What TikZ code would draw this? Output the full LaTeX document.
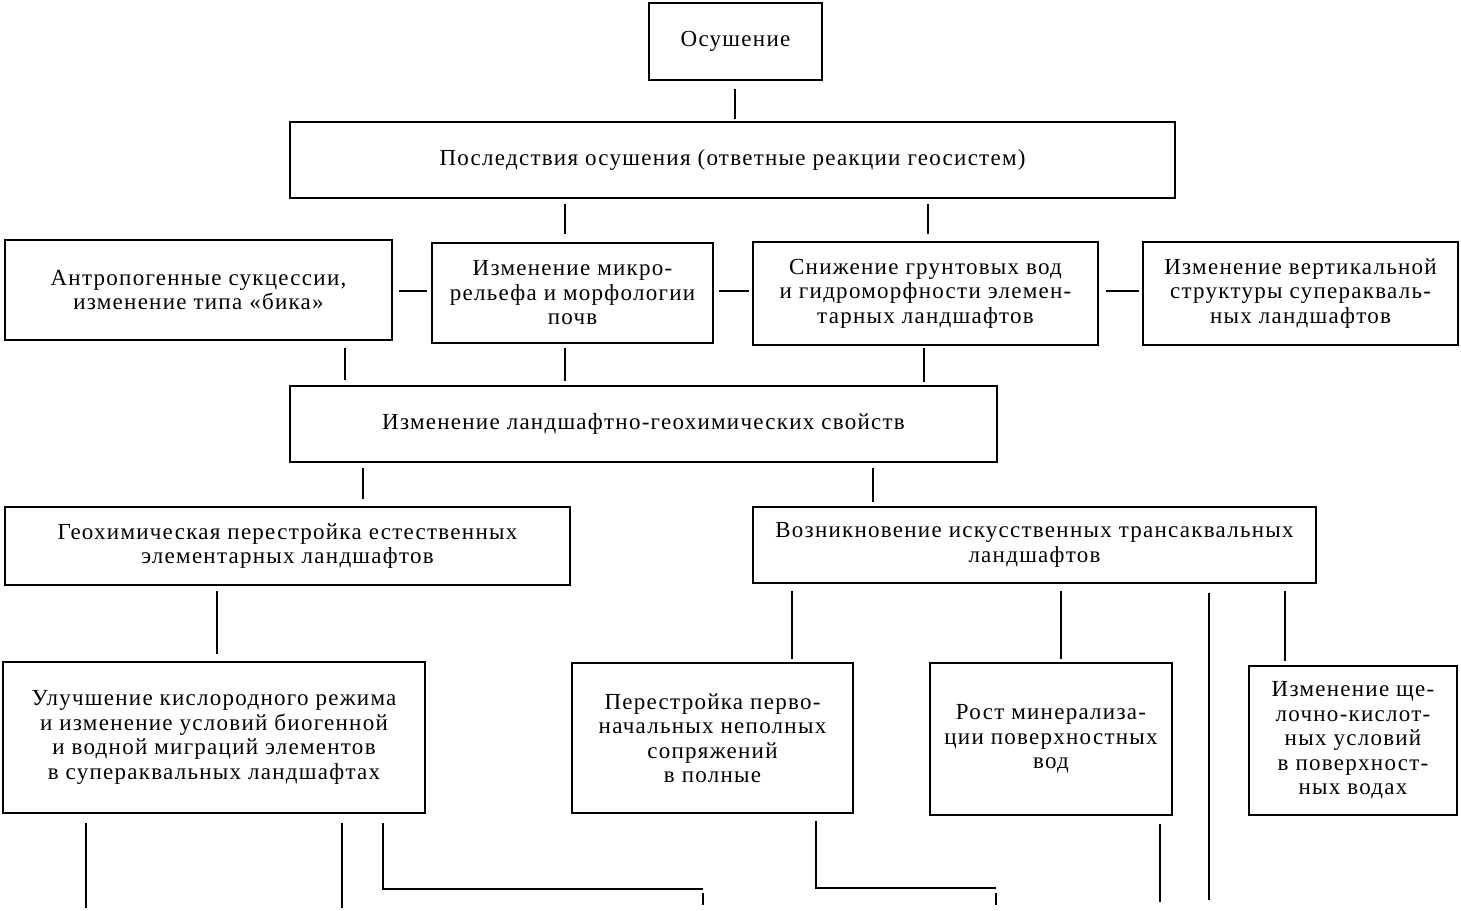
\documentclass[tikz,border=0pt]{standalone}
\usepackage{fontspec}
\setmainfont{Liberation Serif}[LetterSpace=5.5]
\usetikzlibrary{calc}
\begin{document}
\begin{tikzpicture}[x=1pt,y=-1pt,
  box/.style={draw,line width=1.8pt,inner sep=0pt,align=center,
    font=\fontsize{23}{24.5}\selectfont},
  conn/.style={line width=1.5pt}]
\useasboundingbox (0,0) rectangle (1461,910);
% boxes
\node[box,minimum width=173,minimum height=77] (O) at (735.5,41.5) {Осушение};
\node[box,minimum width=885,minimum height=76] (P) at (732.5,160) {Последствия осушения (ответные реакции геосистем)};
\node[box,minimum width=387,minimum height=100] (A) at (198.5,290) {Антропогенные сукцессии,\\изменение типа «бика»};
\node[box,minimum width=281,minimum height=100] (B) at (572.5,293) {Изменение микро-\\рельефа и морфологии\\почв};
\node[box,minimum width=345,minimum height=103] (C) at (925.5,293.5) {Снижение грунтовых вод\\и гидроморфности элемен-\\тарных ландшафтов};
\node[box,minimum width=315,minimum height=103] (D) at (1300.5,293.5) {Изменение вертикальной\\структуры суперакваль-\\ных ландшафтов};
\node[box,minimum width=707,minimum height=76] (L) at (643.5,424) {Изменение ландшафтно-геохимических свойств};
\node[box,minimum width=565,minimum height=78] (G) at (287.5,546) {Геохимическая перестройка естественных\\элементарных ландшафтов};
\node[box,minimum width=563,minimum height=76] (V) at (1034.5,545) {Возникновение искусственных трансаквальных\\ландшафтов};
\node[box,minimum width=422,minimum height=151] (U) at (214,737.5) {Улучшение кислородного режима\\и изменение условий биогенной\\и водной миграций элементов\\в супераквальных ландшафтах};
\node[box,minimum width=281,minimum height=150] (Pe) at (712.5,738) {Перестройка перво-\\начальных неполных\\сопряжений\\в полные};
\node[box,minimum width=242,minimum height=152] (R) at (1051,739) {Рост минерализа-\\ции поверхностных\\вод};
\node[box,minimum width=208,minimum height=149] (S) at (1353,740.5) {Изменение ще-\\лочно-кислот-\\ных условий\\в поверхност-\\ных водах};
% free ends
\coordinate (u1) at (86,908);
\coordinate (u2) at (342,908);
\coordinate (u3) at (703,889);
\coordinate (u3t) at (703,905);
\coordinate (p1) at (996,888);
\coordinate (p1t) at (996,905);
\coordinate (r1) at (1160,902);
\coordinate (v1) at (1209,900);
% connectors
\draw[conn] ($(O.south)+(-0.5,8)$) -- ($(P.north)+(2.5,-2)$);
\draw[conn] ($(P.south)+(-167.5,5)$) -- ($(B.north)+(-7.5,-8)$);
\draw[conn] ($(P.south)+(195.5,5)$) -- ($(C.north)+(2.5,-7)$);
\draw[conn] ($(A.east)+(6,1)$) -- ($(B.west)+(-4,-2)$);
\draw[conn] ($(B.east)+(5,-2)$) -- ($(C.west)+(-3,-2.5)$);
\draw[conn] ($(C.east)+(7,-2.5)$) -- ($(D.west)+(-3,-2.5)$);
\draw[conn] ($(A.south)+(146.5,7)$) -- ($(L.north)+(-298.5,-5)$);
\draw[conn] ($(B.south)+(-7.5,4)$) -- ($(L.north)+(-78.5,-4)$);
\draw[conn] ($(C.south)+(-1.5,2)$) -- ($(L.north)+(280.5,-3)$);
\draw[conn] ($(L.south)+(-280.5,5)$) -- ($(G.north)+(75.5,-7)$);
\draw[conn] ($(L.south)+(229.5,5)$) -- ($(V.north)+(-161.5,-4)$);
\draw[conn] ($(G.south)+(-70.5,5)$) -- ($(U.north)+(3,-7)$);
\draw[conn] ($(V.south)+(-242.5,7)$) -- ($(Pe.north)+(79.5,-3)$);
\draw[conn] ($(V.south)+(26.5,7)$) -- ($(R.north)+(10,-3)$);
\draw[conn] ($(V.south)+(250.5,7)$) -- ($(S.north)+(-68,-4)$);
\draw[conn] ($(V.south)+(174.5,9)$) -- (v1);
\draw[conn] ($(U.south)+(-128,9)$) -- (u1);
\draw[conn] ($(U.south)+(128,9)$) -- (u2);
\draw[conn] ($(U.south)+(169,9)$) |- (u3);
\draw[conn] ($(u3)+(0,4)$) -- (u3t);
\draw[conn] ($(Pe.south)+(103.5,7)$) |- (p1);
\draw[conn] ($(p1)+(0,5)$) -- (p1t);
\draw[conn] ($(R.south)+(109,8)$) -- (r1);
\end{tikzpicture}
\end{document}
